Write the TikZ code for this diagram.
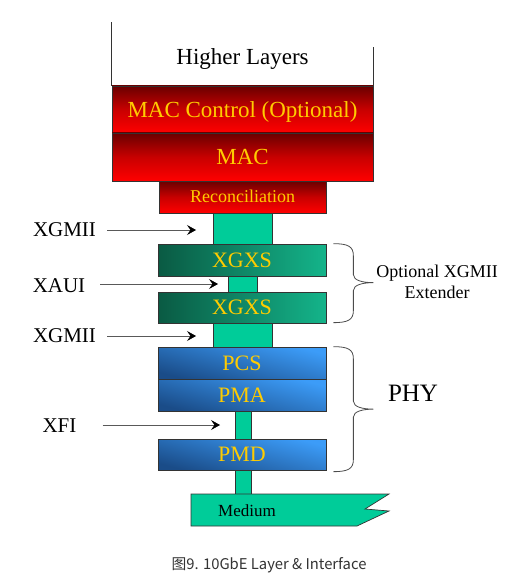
\documentclass[tikz,border=0pt]{standalone}
\usepackage{fontspec}
\setmainfont{Liberation Serif}
\newfontfamily\cjk{Noto Sans CJK SC}
\usepackage{xcolor}
\usetikzlibrary{arrows.meta}

\definecolor{macdark}{HTML}{6A0000}
\definecolor{macmid}{HTML}{C80000}
\definecolor{xgxsdark}{HTML}{0A5A43}
\definecolor{xgxslight}{HTML}{14B48A}
\definecolor{phylight}{HTML}{3C9CF8}
\definecolor{phydark}{HTML}{1A4C88}
\definecolor{linkgreen}{HTML}{00CC99}
\definecolor{gold}{HTML}{FFCC00}
\definecolor{edgegray}{HTML}{333333}
\definecolor{captiongray}{HTML}{333333}

\tikzset{
  fsize/.style={font=\fontsize{#1}{#1}\selectfont, text height={0.66*#1pt},
    text depth=0pt},
  layer/.style={draw=edgegray, line width=0.7pt, inner sep=0pt, text=gold},
  macbox/.style={layer, top color=macdark, bottom color=red, middle color=macmid},
  xgxsbox/.style={layer, left color=xgxsdark, right color=xgxslight},
  phybox/.style={layer, top color=phylight, bottom color=phydark, shading angle=-15},
  link/.style={draw=edgegray, line width=0.7pt, fill=linkgreen, inner sep=0pt},
  iflabel/.style={inner sep=0pt, fsize=21},
  ifarrow/.style={draw=black!65, line width=0.7pt,
    -{Stealth[length=9pt,width=10pt,inset=3.5pt,color=black]}},
  brace/.style={draw=black!70, line width=0.8pt}
}

\begin{document}
\begin{tikzpicture}[x=1pt, y=-1pt]
\useasboundingbox (0,0) rectangle (517,588);

% links between layers
\node (linka) at (242.5,228.5) [link, minimum width=59pt, minimum height=31pt] {};
\node (linkb) at (242.5,284) [link, minimum width=29pt, minimum height=16pt] {};
\node (linkc) at (242.5,335) [link, minimum width=59pt, minimum height=24pt] {};
\node (linkd) at (243,425) [link, minimum width=16pt, minimum height=28pt] {};
\node (linke) at (243,482) [link, minimum width=16pt, minimum height=24pt] {};

% layer stack
\node (higher) at (242.5,57) [inner sep=0pt, fsize=23] {Higher Layers};
\node (macctl) at (242.5,109.5) [macbox, minimum width=261pt, minimum height=47pt,
  fsize=23] {MAC Control (Optional)};
\node (mac) at (242.5,157) [macbox, minimum width=261pt, minimum height=48pt,
  fsize=23] {MAC};
\node (recon) at (242.5,197) [macbox, minimum width=167pt, minimum height=32pt,
  fsize=18] {Reconciliation};
\node (xgxsa) at (242,260) [xgxsbox, minimum width=168pt, minimum height=32pt,
  fsize=22] {XGXS};
\node (xgxsb) at (242,307.5) [xgxsbox, minimum width=168pt, minimum height=31pt,
  fsize=22] {XGXS};
\node (pcs) at (242,363) [phybox, minimum width=168pt, minimum height=32pt,
  fsize=22] {PCS};
\node (pma) at (242,395) [phybox, minimum width=168pt, minimum height=32pt,
  fsize=22] {PMA};
\node (pmd) at (242,454.5) [phybox, minimum width=168pt, minimum height=31pt,
  fsize=22] {PMD};

\draw[edgegray, line width=0.7pt] (macctl.north west) -- ++(0,-64);
\draw[edgegray, line width=0.7pt] (macctl.north east) -- ++(0,-39);

% medium
\fill[linkgreen] (191,494) -- (389,494) -- (365,509) -- (389,511) -- (357,526) -- (191,526) -- cycle;
\draw[edgegray, line width=0.7pt] (191,494) -- (389,494) -- (365,509) -- (389,511) -- (357,526) -- (191,526) -- cycle;
\node (medium) at (247,511) [inner sep=0pt, fsize=17] {Medium};

% interfaces
\node (xgmiia) at (64.5,230) [iflabel] {XGMII};
\node (xaui) at (59,286) [iflabel] {XAUI};
\node (xgmiib) at (64.5,336) [iflabel] {XGMII};
\node (xfi) at (59.5,426) [iflabel] {XFI};
\coordinate (tipa) at (196,230);
\coordinate (tipb) at (218,284);
\coordinate (tipc) at (196,336);
\coordinate (tipd) at (220,425);
\draw[ifarrow] ([xshift=11pt]xgmiia.east |- tipa) -- (tipa);
\draw[ifarrow] ([xshift=15pt]xaui.east |- tipb) -- (tipb);
\draw[ifarrow] ([xshift=11pt]xgmiib.east |- tipc) -- (tipc);
\draw[ifarrow] ([xshift=26pt]xfi.east |- tipd) -- (tipd);

% braces
\coordinate (optop) at ([xshift=7pt]xgxsa.north east);
\coordinate (phytop) at ([xshift=7pt]pcs.north east);
\draw[brace] (optop) .. controls +(15,0) and +(0,-9) .. ++(20,12) -- ++(0,19)
  .. controls +(0,6) and +(-10,0) .. ++(20,8)
  .. controls +(-10,0) and +(0,-6) .. ++(-20,8) -- ++(0,20)
  .. controls +(0,9) and +(15,0) .. ++(-20,12);
\draw[brace] (phytop) .. controls +(15,0) and +(0,-9) .. ++(20,12) -- ++(0,42.5)
  .. controls +(0,6) and +(-10,0) .. ++(20,8)
  .. controls +(-10,0) and +(0,-6) .. ++(-20,8) -- ++(0,42.5)
  .. controls +(0,9) and +(15,0) .. ++(-20,12);
\node (optional) at (437,282) [align=center, inner sep=0pt,
  font=\fontsize{18}{21}\selectfont] {Optional XGMII\\Extender};
\node (phy) at (413,393) [inner sep=0pt, fsize=25] {PHY};

% caption
\node (caption) at (269,565) [text=captiongray, font=\cjk\fontsize{14.8}{18}\selectfont]
  {图9. 10GbE Layer \& Interface};
\end{tikzpicture}
\end{document}
